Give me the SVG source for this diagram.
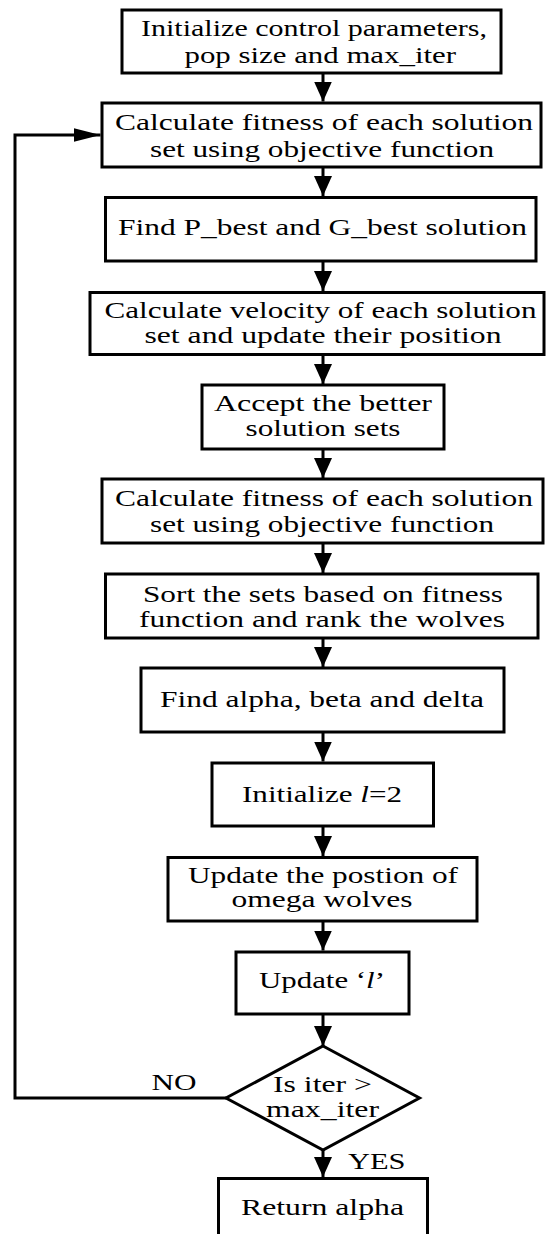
<svg xmlns="http://www.w3.org/2000/svg" width="546" height="1234" viewBox="0 0 546 1234">
<style>
.box{fill:#fff;stroke:#000;stroke-width:3}
.t{font-family:"Liberation Serif","Times New Roman",serif;font-size:24px;fill:#000}
.c{fill:none;stroke:#000;stroke-width:3}
</style>
<defs>
<marker id="av" markerUnits="userSpaceOnUse" markerWidth="20" markerHeight="18" refX="20" refY="9" orient="auto" viewBox="0 0 20 18"><path d="M0,0 L20,9 L0,18 Z" fill="#000"/></marker>
<marker id="ah" markerUnits="userSpaceOnUse" markerWidth="27" markerHeight="14" refX="27" refY="7" orient="auto" viewBox="0 0 27 14"><path d="M0,0 L27,7 L0,14 Z" fill="#000"/></marker>
</defs>
<rect width="546" height="1234" fill="#fff"/>
<g id="connectors">
<line class="c" x1="323" y1="73" x2="323" y2="101.5" marker-end="url(#av)"/>
<line class="c" x1="323" y1="167" x2="323" y2="196" marker-end="url(#av)"/>
<line class="c" x1="323" y1="261" x2="323" y2="291" marker-end="url(#av)"/>
<line class="c" x1="323" y1="354" x2="323" y2="384" marker-end="url(#av)"/>
<line class="c" x1="323" y1="449" x2="323" y2="478" marker-end="url(#av)"/>
<line class="c" x1="323" y1="543" x2="323" y2="573" marker-end="url(#av)"/>
<line class="c" x1="323" y1="638" x2="323" y2="667" marker-end="url(#av)"/>
<line class="c" x1="323" y1="732" x2="323" y2="761.5" marker-end="url(#av)"/>
<line class="c" x1="323" y1="826" x2="323" y2="856" marker-end="url(#av)"/>
<line class="c" x1="323" y1="921" x2="323" y2="950.5" marker-end="url(#av)"/>
<line class="c" x1="323" y1="1014" x2="323" y2="1046" marker-end="url(#av)"/>
<line class="c" x1="323" y1="1150" x2="323" y2="1177" marker-end="url(#av)"/>
<polyline class="c" points="226,1098 15,1098 15,135 100.5,135" marker-end="url(#ah)"/>
<text class="t" x="151.5" y="1090" textLength="45" lengthAdjust="spacingAndGlyphs">NO</text>
<text class="t" x="348" y="1169" textLength="57.5" lengthAdjust="spacingAndGlyphs">YES</text>
</g>
<g id="n1"><rect class="box" x="122" y="10" width="379" height="63"/>
<text class="t" x="141" y="36" textLength="346" lengthAdjust="spacingAndGlyphs">Initialize control parameters,</text>
<text class="t" x="184.5" y="63" textLength="271.5" lengthAdjust="spacingAndGlyphs">pop size and max_iter</text></g>
<g id="n2"><rect class="box" x="102" y="103" width="439" height="64"/>
<text class="t" x="115" y="130" textLength="418" lengthAdjust="spacingAndGlyphs">Calculate fitness of each solution</text>
<text class="t" x="150" y="157" textLength="344" lengthAdjust="spacingAndGlyphs">set using objective function</text></g>
<g id="n3"><rect class="box" x="105.5" y="197.5" width="430.5" height="63.5"/>
<text class="t" x="118" y="235" textLength="409" lengthAdjust="spacingAndGlyphs">Find P_best and G_best solution</text></g>
<g id="n4"><rect class="box" x="90" y="292.5" width="454" height="62"/>
<text class="t" x="104.5" y="318" textLength="432" lengthAdjust="spacingAndGlyphs">Calculate velocity of each solution</text>
<text class="t" x="144.5" y="343" textLength="357" lengthAdjust="spacingAndGlyphs">set and update their position</text></g>
<g id="n5"><rect class="box" x="202" y="385" width="242" height="64"/>
<text class="t" x="214" y="411" textLength="218" lengthAdjust="spacingAndGlyphs">Accept the better</text>
<text class="t" x="245.5" y="436" textLength="155" lengthAdjust="spacingAndGlyphs">solution sets</text></g>
<g id="n6"><rect class="box" x="102" y="479" width="441" height="64"/>
<text class="t" x="115" y="506" textLength="418" lengthAdjust="spacingAndGlyphs">Calculate fitness of each solution</text>
<text class="t" x="150" y="532" textLength="344" lengthAdjust="spacingAndGlyphs">set using objective function</text></g>
<g id="n7"><rect class="box" x="105.5" y="574" width="432.5" height="64"/>
<text class="t" x="143" y="602" textLength="360" lengthAdjust="spacingAndGlyphs">Sort the sets based on fitness</text>
<text class="t" x="139" y="627" textLength="366" lengthAdjust="spacingAndGlyphs">function and rank the wolves</text></g>
<g id="n8"><rect class="box" x="141" y="668" width="363" height="64"/>
<text class="t" x="160" y="707" textLength="324" lengthAdjust="spacingAndGlyphs">Find alpha, beta and delta</text></g>
<g id="n9"><rect class="box" x="212" y="763" width="221.5" height="63"/>
<text class="t" x="242" y="802" textLength="160" lengthAdjust="spacingAndGlyphs">Initialize <tspan font-style="italic">l</tspan>=2</text></g>
<g id="n10"><rect class="box" x="168" y="857.5" width="309" height="63.5"/>
<text class="t" x="188" y="883" textLength="270" lengthAdjust="spacingAndGlyphs">Update the postion of</text>
<text class="t" x="231.5" y="907" textLength="181" lengthAdjust="spacingAndGlyphs">omega wolves</text></g>
<g id="n11"><rect class="box" x="236" y="952" width="173" height="62"/>
<text class="t" x="259" y="988" textLength="126" lengthAdjust="spacingAndGlyphs">Update ‘<tspan font-style="italic">l</tspan>’</text></g>
<g id="n12"><polygon class="box" points="323,1046 419.5,1098 323,1150 226,1098"/>
<text class="t" x="273" y="1092" textLength="99" lengthAdjust="spacingAndGlyphs">Is iter &gt;</text>
<text class="t" x="266" y="1117" textLength="113" lengthAdjust="spacingAndGlyphs">max_iter</text></g>
<g id="n13"><rect class="box" x="218.5" y="1178.5" width="209" height="70"/>
<text class="t" x="241" y="1215" textLength="163" lengthAdjust="spacingAndGlyphs">Return alpha</text></g>
</svg>
